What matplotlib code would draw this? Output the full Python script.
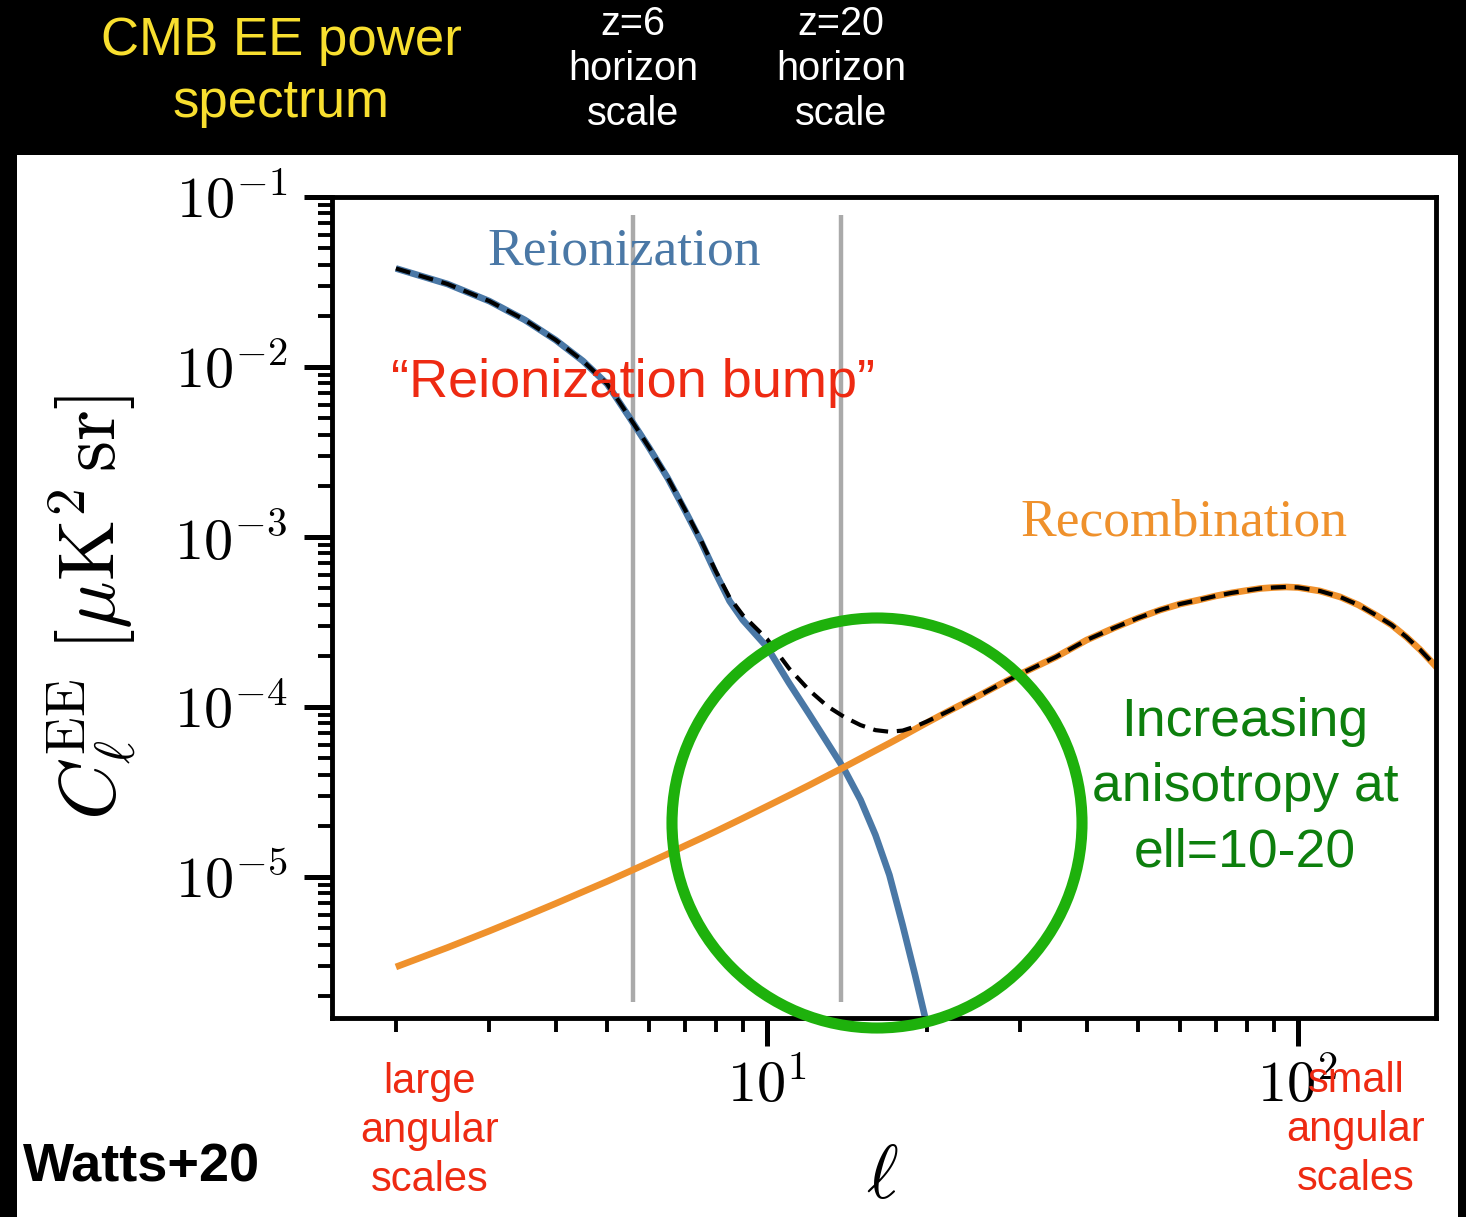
import numpy as np
import matplotlib
matplotlib.use("Agg")
import matplotlib.pyplot as plt
from matplotlib.patches import Ellipse, Rectangle

plt.rcParams["mathtext.fontset"] = "cm"
plt.rcParams["font.family"] = ["Liberation Sans", "DejaVu Sans"]

# multipoles and spectra (muK^2 sr)
ell_reion = [2, 2.5, 3, 3.5, 4, 4.5, 5, 5.5, 6, 6.5, 7, 7.5, 8, 8.5, 9,
             10, 11, 12, 13, 14, 15, 16, 17, 18, 19, 20]
cl_reion = [3.80e-2, 3.08e-2, 2.44e-2, 1.89e-2, 1.44e-2, 1.085e-2, 7.94e-3, 5.08e-3,
            3.34e-3, 2.22e-3, 1.44e-3, 9.47e-4, 6.14e-4, 4.20e-4, 3.25e-4,
            2.25e-4, 1.384e-4, 9.10e-5, 6.14e-5, 4.26e-5, 2.84e-5, 1.766e-5,
            1.027e-5, 5.22e-6, 2.65e-6, 1.35e-6]

ell_recomb = ell_reion + [22, 25, 28, 30, 35, 40, 45, 50, 55, 60, 65, 70, 75, 80,
                          85, 90, 95, 100, 110, 120, 130, 140, 150, 160, 170, 180, 185]
cl_recomb = [2.955e-6, 3.84e-6, 4.81e-6, 5.86e-6, 6.98e-6, 8.18e-6, 9.42e-6, 1.076e-5,
             1.217e-5, 1.365e-5, 1.524e-5, 1.684e-5, 1.852e-5, 2.03e-5, 2.214e-5,
             2.605e-5, 3.02e-5, 3.463e-5, 3.943e-5, 4.443e-5, 4.98e-5, 5.54e-5,
             6.12e-5, 6.74e-5, 7.40e-5, 8.08e-5,
             9.47e-5, 1.161e-4, 1.403e-4, 1.563e-4, 1.968e-4, 2.477e-4, 2.915e-4,
             3.338e-4, 3.72e-4, 4.035e-4, 4.26e-4, 4.50e-4, 4.69e-4, 4.84e-4,
             4.98e-4, 5.045e-4, 5.08e-4, 5.045e-4, 4.81e-4, 4.44e-4, 3.98e-4,
             3.48e-4, 3.04e-4, 2.58e-4, 2.164e-4, 1.79e-4, 1.628e-4]

# total = reionization + recombination
cl_total = np.array(cl_recomb)
cl_total[:len(cl_reion)] += np.array(cl_reion)

horizon_ell = [5.6, 13.8]
horizon_labels = ["z=6\nhorizon\nscale", "z=20\nhorizon\nscale"]

xtick_vals = [10, 100]
xtick_labels = [r"$10^{1}$", r"$10^{2}$"]
ytick_vals = [1e-5, 1e-4, 1e-3, 1e-2, 1e-1]
ytick_labels = [r"$10^{-5}$", r"$10^{-4}$", r"$10^{-3}$", r"$10^{-2}$", r"$10^{-1}$"]

W, H = 1466, 1217


def fxy(px, py):
    return px / W, 1 - py / H


fig = plt.figure(figsize=(W / 100, H / 100), dpi=100, facecolor="black")
fig.patches.append(Rectangle((17 / W, 0), (1458 - 17) / W, (H - 155) / H,
                             transform=fig.transFigure, facecolor="white",
                             edgecolor="none", zorder=-5))

ax = fig.add_axes([332 / W, 1 - 1018 / H, (1436 - 332) / W, (1018 - 197) / H])
ax.set_zorder(1)
ax.set_xscale("log")
ax.set_yscale("log")
ax.set_xlim(1.516, 181.9)
ax.set_ylim(1.48e-6, 0.1)

ax.vlines(horizon_ell, 1.84e-6, 0.078, color="#aaaaaa", lw=3.2, zorder=1)
ax.plot(ell_reion, cl_reion, color="#4a78a6", lw=4.8, zorder=2,
        solid_capstyle="butt")
ax.plot(ell_recomb, cl_recomb, color="#ef912c", lw=4.8, zorder=2,
        solid_capstyle="butt")
ax.plot(ell_recomb, cl_total, color="black", lw=3, ls=(0, (3.6, 2.1)), zorder=3)

for s in ax.spines.values():
    s.set_linewidth(3.5)
ax.tick_params(which="major", direction="out", length=20, width=3.6, pad=10)
ax.tick_params(which="minor", direction="out", length=10, width=2.8)
ax.set_xticks(xtick_vals)
ax.set_xticklabels(xtick_labels, fontsize=42)
ax.set_yticks(ytick_vals)
ax.set_yticklabels(ytick_labels, fontsize=42)
ax.tick_params(axis="y", which="major", pad=12)

ax.set_ylabel(r"$C_\ell^{\rm EE}\ [\mu{\rm K}^2\,{\rm sr}]$", fontsize=57)
ax.yaxis.set_label_coords(-0.176, 0.5)
ax.set_xlabel(r"$\ell$", fontsize=55)
ax.xaxis.set_label_coords(0.498, -0.152)

ax.text(0.265, 0.934, "Reionization", transform=ax.transAxes, color="#4a78a6",
        fontsize=38.5, family="Liberation Serif", ha="center", va="center", zorder=5)
ax.text(0.772, 0.603, "Recombination", transform=ax.transAxes, color="#ef912c",
        fontsize=38.5, family="Liberation Serif", ha="center", va="center", zorder=5)
ax.text(0.273, 0.774, "\u201cReionization bump\u201d", transform=ax.transAxes,
        color="#ee2a12", fontsize=39, ha="center", va="center", zorder=5)

circle = Ellipse(((877 - 332) / 1104, (1018 - 823) / 821), 410 / 1104, 410 / 821,
                 transform=ax.transAxes, fill=False, edgecolor="#1eb10c", lw=8,
                 clip_on=False, zorder=6)
ax.add_patch(circle)

ax.text(0.827, 0.281, "Increasing\nanisotropy at\nell=10-20", transform=ax.transAxes,
        color="#0d7f0d", fontsize=38.5, ha="center", va="center", linespacing=1.4,
        zorder=5)

fig.text(*fxy(281, 72), "CMB EE power\nspectrum", color="#f8df2f", fontsize=38,
         ha="center", va="center", linespacing=1.3)
for ell_h, lab in zip(horizon_ell, horizon_labels):
    px = 767 + 531 * (np.log10(ell_h) - 1)
    fig.text(*fxy(px, 69), lab, color="white", fontsize=28.5, ha="center",
             va="center", linespacing=1.22)

fig.text(*fxy(430, 1131), "large\nangular\nscales", color="#ee2a12", fontsize=30,
         ha="center", va="center", linespacing=1.3, zorder=5)
fig.text(*fxy(1356, 1130), "small\nangular\nscales", color="#ee2a12", fontsize=30,
         ha="center", va="center", linespacing=1.3, zorder=5)
fig.text(*fxy(142, 1167), "Watts+20", color="black", fontsize=39,
         fontweight="bold", ha="center", va="center")

fig.savefig("out.png", dpi=100, facecolor="black")
